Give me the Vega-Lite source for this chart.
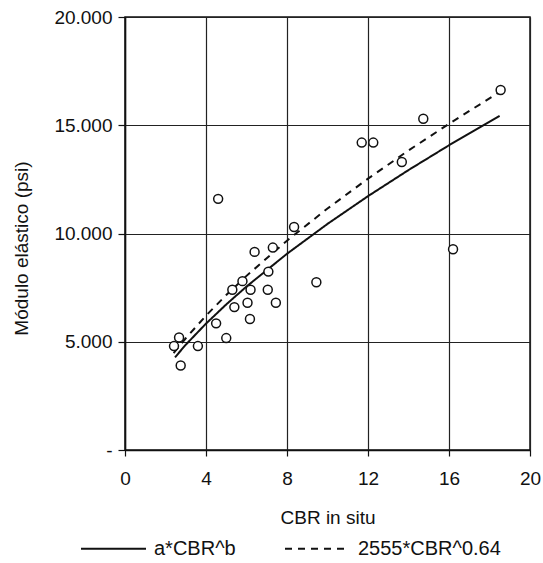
{
  "$schema": "https://vega.github.io/schema/vega-lite/v6.json",
  "width": 405,
  "height": 433,
  "autosize": {"type": "none"},
  "padding": {"left": 125, "top": 17, "right": 13, "bottom": 113},
  "background": "white",
  "config": {
    "font": "Liberation Sans",
    "view": {"stroke": "#111", "strokeWidth": 1.5},
    "axis": {
      "labelFont": "Liberation Sans",
      "titleFont": "Liberation Sans",
      "labelFontSize": 19,
      "titleFontSize": 19,
      "titleFontWeight": "normal",
      "labelColor": "#111",
      "titleColor": "#111",
      "gridColor": "#222",
      "gridWidth": 1.2,
      "gridOpacity": 1,
      "domainColor": "#111",
      "domainWidth": 1.5,
      "tickColor": "#111",
      "tickWidth": 1.2
    }
  },
  "datasets": {
    "pts": [
      {"cbr": 18.55, "mr": 16630},
      {"cbr": 14.73, "mr": 15300},
      {"cbr": 11.69, "mr": 14200},
      {"cbr": 12.26, "mr": 14200},
      {"cbr": 13.67, "mr": 13300},
      {"cbr": 4.6, "mr": 11600},
      {"cbr": 8.35, "mr": 10300},
      {"cbr": 16.2, "mr": 9270},
      {"cbr": 6.4, "mr": 9150},
      {"cbr": 7.3, "mr": 9350},
      {"cbr": 9.45, "mr": 7750},
      {"cbr": 7.08, "mr": 8240},
      {"cbr": 5.8, "mr": 7800},
      {"cbr": 5.3, "mr": 7400},
      {"cbr": 6.2, "mr": 7400},
      {"cbr": 7.05, "mr": 7400},
      {"cbr": 5.4, "mr": 6600},
      {"cbr": 6.05, "mr": 6800},
      {"cbr": 7.45, "mr": 6800},
      {"cbr": 6.17, "mr": 6050},
      {"cbr": 4.5, "mr": 5850},
      {"cbr": 5.0, "mr": 5170},
      {"cbr": 2.67, "mr": 5200},
      {"cbr": 2.42, "mr": 4800},
      {"cbr": 3.6, "mr": 4800},
      {"cbr": 2.75, "mr": 3900}
    ],
    "curves": [
      {"series": "a*CBR^b", "cbr": 2.47, "mr": 4280},
      {"series": "a*CBR^b", "cbr": 3, "mr": 4862},
      {"series": "a*CBR^b", "cbr": 4, "mr": 5837},
      {"series": "a*CBR^b", "cbr": 5, "mr": 6725},
      {"series": "a*CBR^b", "cbr": 6, "mr": 7550},
      {"series": "a*CBR^b", "cbr": 8, "mr": 9063},
      {"series": "a*CBR^b", "cbr": 10, "mr": 10443},
      {"series": "a*CBR^b", "cbr": 12, "mr": 11725},
      {"series": "a*CBR^b", "cbr": 14, "mr": 12930},
      {"series": "a*CBR^b", "cbr": 16, "mr": 14075},
      {"series": "a*CBR^b", "cbr": 18.5, "mr": 15435},
      {"series": "2555*CBR^0.64", "cbr": 2.4, "mr": 4474},
      {"series": "2555*CBR^0.64", "cbr": 3, "mr": 5161},
      {"series": "2555*CBR^0.64", "cbr": 4, "mr": 6205},
      {"series": "2555*CBR^0.64", "cbr": 5, "mr": 7157},
      {"series": "2555*CBR^0.64", "cbr": 6, "mr": 8043},
      {"series": "2555*CBR^0.64", "cbr": 8, "mr": 9669},
      {"series": "2555*CBR^0.64", "cbr": 10, "mr": 11153},
      {"series": "2555*CBR^0.64", "cbr": 12, "mr": 12533},
      {"series": "2555*CBR^0.64", "cbr": 14, "mr": 13834},
      {"series": "2555*CBR^0.64", "cbr": 16, "mr": 15067},
      {"series": "2555*CBR^0.64", "cbr": 18.5, "mr": 16536}
    ]
  },
  "encoding": {
    "x": {
      "field": "cbr",
      "type": "quantitative",
      "scale": {"domain": [0, 20], "nice": false, "zero": false},
      "axis": {
        "title": "CBR in situ",
        "values": [0, 4, 8, 12, 16, 20],
        "tickSize": 6,
        "labelPadding": 13,
        "titlePadding": 20,
        "labelFlush": false
      }
    },
    "y": {
      "field": "mr",
      "type": "quantitative",
      "scale": {"domain": [0, 20000], "nice": false},
      "axis": {
        "title": "Módulo elástico (psi)",
        "values": [0, 5000, 10000, 15000, 20000],
        "labelExpr": "datum.value == 0 ? '-\u00a0\u00a0\u00a0' : replace(format(datum.value, ','), ',', '.')",
        "tickSize": 7,
        "labelPadding": 6,
        "titlePadding": 22,
        "titleY": 231,
        "labelFlush": false
      }
    }
  },
  "layer": [
    {
      "data": {"name": "curves"},
      "mark": {"type": "line", "color": "#111", "strokeWidth": 2},
      "encoding": {
        "detail": {"field": "series"},
        "strokeDash": {
          "field": "series",
          "type": "nominal",
          "scale": {"domain": ["a*CBR^b", "2555*CBR^0.64"], "range": [[1, 0], [7, 6]]},
          "legend": {
            "title": null,
            "orient": "none",
            "direction": "horizontal",
            "legendX": -45,
            "legendY": 498,
            "symbolType": "stroke",
            "symbolSize": 4225,
            "symbolStrokeWidth": 2,
            "symbolStrokeColor": "#111",
            "labelFont": "Liberation Sans",
            "labelFontSize": 20,
            "labelColor": "#111",
            "labelOffset": 7,
            "columnPadding": 45,
            "labelLimit": 300
          }
        }
      }
    },
    {
      "data": {"name": "pts"},
      "mark": {"type": "point", "shape": "circle", "filled": false, "color": "#111", "fill": "white", "fillOpacity": 1, "size": 80, "strokeWidth": 1.5, "opacity": 1}
    }
  ]
}
